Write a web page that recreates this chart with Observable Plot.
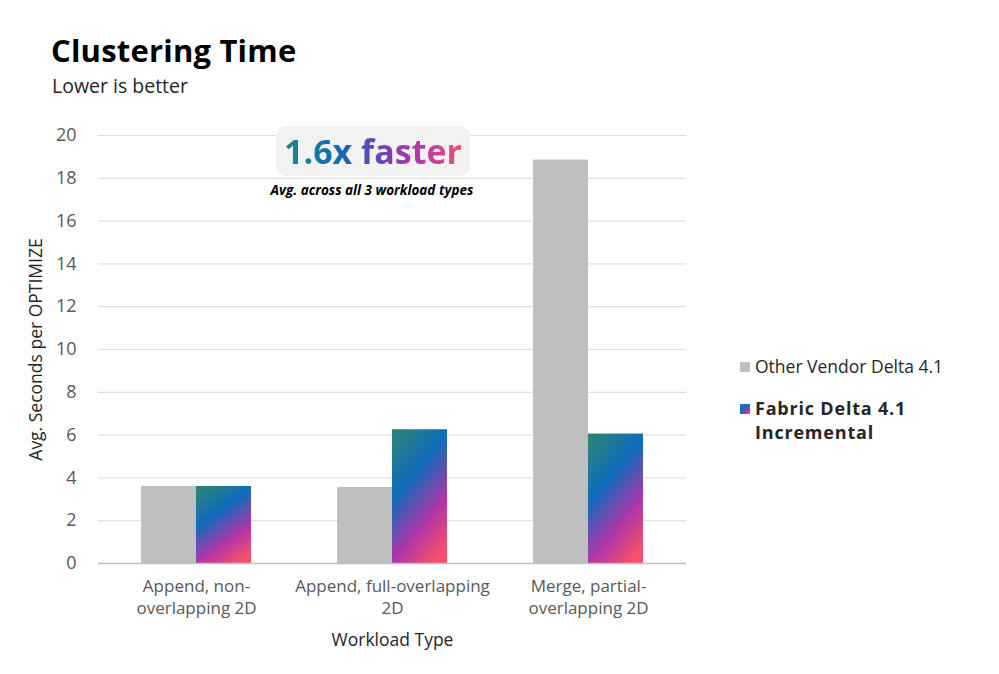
<!DOCTYPE html>
<html>
<head>
<meta charset="utf-8">
<script src="https://cdn.jsdelivr.net/npm/d3@7"></script>
<script src="https://cdn.jsdelivr.net/npm/@observablehq/plot@0.6"></script>
<style>
  html, body { margin: 0; padding: 0; background: #fff; }
  #page { position: relative; width: 999px; height: 674px; overflow: hidden; font-family: "Open Sans", sans-serif; }
  #head { height: 110px; position: relative; }
  #title { position: absolute; left: 51px; top: 29px; font-size: 31px; font-weight: 700; color: #000; letter-spacing: 0.2px; }
  #subtitle { position: absolute; left: 52px; top: 72px; font-size: 19.5px; color: #262626; }
  #badge { position: absolute; left: 276px; top: 126px; width: 194px; height: 50px; border-radius: 10px; background: #f2f2f2; display: flex; align-items: center; justify-content: center; }
  #badge span { font-size: 34px; font-weight: 700; letter-spacing: 0px;
    background: linear-gradient(90deg, #1f8a7c 0%, #0f6cbd 30%, #5b47b8 50%, #b536a6 75%, #e4527a 100%);
    -webkit-background-clip: text; background-clip: text; color: transparent; }
  #badgeSub { position: absolute; left: 222px; width: 300px; top: 181px; text-align: center; font-size: 13.5px; font-weight: 700; font-style: italic; color: #000; }
  .leg { position: absolute; left: 740px; font-size: 17.5px; color: #262626; line-height: 24px; }
  .sw { position: absolute; left: 0; width: 10px; height: 10px; }
  .leg .txt { margin-left: 15px; display: block; }
  svg { display: block; }
</style>
</head>
<body>
<div id="page">
  <div id="head">
    <div id="title"></div>
    <div id="subtitle"></div>
  </div>
  <div id="chart"></div>
  <div id="badge"><span id="badgeText"></span></div>
  <div id="badgeSub"></div>
  <div class="leg" id="leg0" style="top:354px;"><div class="sw" style="top:8px;background:#bfbfbf"></div><span class="txt"></span></div>
  <div class="leg" id="leg1" style="top:396px;font-weight:700;font-size:18px;letter-spacing:0.8px;"><div class="sw" style="top:8px;background:linear-gradient(135deg,#2a8080,#0f6cbd 40%,#b036a8 72%,#f5506a)"></div><span class="txt"></span></div>
</div>
<script>
// ---- data ----
const categories = ["Append, non-overlapping 2D", "Append, full-overlapping 2D", "Merge, partial-overlapping 2D"];
const tickLabels = ["Append, non-\noverlapping 2D", "Append, full-overlapping\n2D", "Merge, partial-\noverlapping 2D"];
const series = ["Other Vendor Delta 4.1", "Fabric Delta 4.1 Incremental"];
const otherVendor = [3.6, 3.55, 18.85];
const fabric = [3.6, 6.25, 6.05];
const yTicks = [0, 2, 4, 6, 8, 10, 12, 14, 16, 18, 20];
const title = "Clustering Time";
const subtitle = "Lower is better";
const yLabel = "Avg. Seconds per OPTIMIZE";
const xLabel = "Workload Type";
const badge = "1.6x faster";
const badgeSub = "Avg. across all 3 workload types";

document.getElementById("title").textContent = title;
document.getElementById("subtitle").textContent = subtitle;
document.getElementById("badgeText").textContent = badge;
document.getElementById("badgeSub").textContent = badgeSub;
document.querySelector("#leg0 .txt").textContent = series[0];
document.querySelector("#leg1 .txt").innerHTML = "Fabric Delta 4.1<br>Incremental";

const data = [];
categories.forEach((c, i) => {
  data.push({category: c, series: series[0], value: otherVendor[i]});
  data.push({category: c, series: series[1], value: fabric[i]});
});

const chart = Plot.plot({
  width: 999,
  height: 564,
  marginTop: 25,
  marginLeft: 97,
  marginRight: 312,
  marginBottom: 111,
  style: {fontFamily: "Open Sans, sans-serif", background: "transparent", overflow: "visible"},
  fx: {domain: categories, padding: 0},
  x: {domain: series, axis: null, paddingInner: 0, paddingOuter: 0.755},
  y: {domain: [0, 20]},
  color: {domain: series, range: ["#bfbfbf", "url(#fabricGrad)"]},
  marks: [
    Plot.gridY(yTicks, {stroke: "#e0e0e0", strokeOpacity: 1, strokeWidth: 1.2}),
    Plot.barY(data, {fx: "category", x: "series", y: "value", fill: "series"}),
    Plot.ruleY([0], {stroke: "#b8c0ca", strokeWidth: 1.3}),
    Plot.axisY(yTicks, {tickSize: 0, tickPadding: 22, fontSize: 18, fill: "#595959",
      label: yLabel, labelAnchor: "center", labelArrow: "none", labelOffset: 69}),
    Plot.axisFx({anchor: "bottom", tickSize: 0, tickPadding: 14, fontSize: 17, fill: "#595959", lineHeight: 1.24,
      tickFormat: d => tickLabels[categories.indexOf(d)],
      label: xLabel, labelAnchor: "center", labelArrow: "none", labelOffset: 82})
  ]
});

const svg = d3.select(chart);
const defs = svg.insert("defs", ":first-child");
const g = defs.append("linearGradient").attr("id", "fabricGrad")
  .attr("x1", 0.25).attr("y1", 0).attr("x2", 0.75).attr("y2", 1);
[[0, "#2a8080"], [0.33, "#0f6cbd"], [0.7, "#b036a8"], [1, "#f5506a"]].forEach(([o, c]) =>
  g.append("stop").attr("offset", o).attr("stop-color", c));

svg.selectAll('[aria-label="y-axis label"] text, [aria-label="y-axis label"]').attr("font-size", 17.5).attr("fill", "#262626");
svg.selectAll('[aria-label="fx-axis label"] text, [aria-label="fx-axis label"]').attr("font-size", 17.5).attr("fill", "#262626");

document.getElementById("chart").appendChild(chart);
</script>
</body>
</html>
